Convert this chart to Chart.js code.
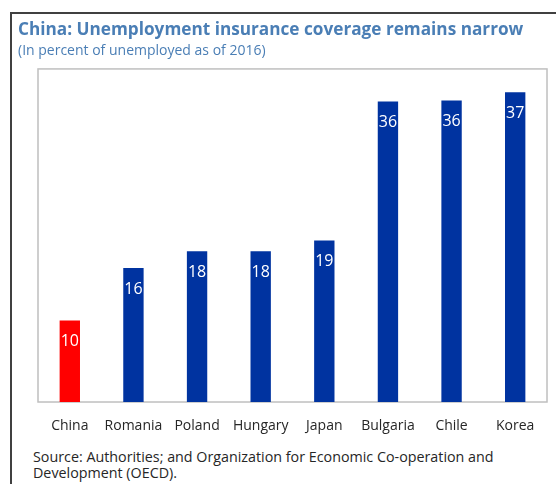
<!DOCTYPE html>
<html>
<head>
<meta charset="utf-8">
<script src="https://cdn.jsdelivr.net/npm/chart.js@4"></script>
<style>
  body { margin: 0; background: #fff; overflow: hidden; }
  #frame { position: absolute; left: 10px; top: 12px; width: 600px; height: 520px; border: 2px solid #404040; }
  #wrap { position: absolute; left: 0; top: 0; width: 556px; height: 440px; }
  #source { position: absolute; left: 33px; top: 449px; font: 14.3px 'Open Sans', sans-serif; line-height: 16px; color: #262626; }
</style>
</head>
<body>
<div id="frame"></div>
<div id="wrap"><canvas id="chart"></canvas></div>
<div id="source">Source: Authorities; and Organization for Economic Co-operation and<br>Development (OECD).</div>
<script>
// 국가별 실업보험 적용률 (2016, %)
const countries = ['China', 'Romania', 'Poland', 'Hungary', 'Japan', 'Bulgaria', 'Chile', 'Korea'];
const coverage = [9.8, 16.1, 18.1, 18.1, 19.4, 36.1, 36.2, 37.2];
const barColors = ['#ff0000', '#0033a0', '#0033a0', '#0033a0', '#0033a0', '#0033a0', '#0033a0', '#0033a0'];
const yMax = 40;

// 막대 위 값 표시 + 플롯 테두리
const valueLabels = {
  id: 'valueLabels',
  beforeDatasetsDraw(chart) {
    const { ctx, chartArea: a } = chart;
    ctx.save();
    ctx.strokeStyle = '#bfbfbf';
    ctx.lineWidth = 1.5;
    ctx.strokeRect(a.left, a.top, a.right - a.left, a.bottom - a.top);
    ctx.restore();
  },
  afterDatasetsDraw(chart) {
    const { ctx } = chart;
    const meta = chart.getDatasetMeta(0);
    ctx.save();
    ctx.fillStyle = '#ffffff';
    ctx.font = "16px 'Open Sans', sans-serif";
    ctx.textAlign = 'center';
    ctx.textBaseline = 'middle';
    meta.data.forEach((bar, i) => {
      ctx.fillText(Math.round(coverage[i]), bar.x, bar.y + 21);
    });
    ctx.restore();
  }
};

new Chart(document.getElementById('chart'), {
  type: 'bar',
  data: {
    labels: countries,
    datasets: [{
      data: coverage,
      backgroundColor: barColors,
      barPercentage: 0.32,
      categoryPercentage: 1
    }]
  },
  options: {
    responsive: true,
    maintainAspectRatio: false,
    animation: false,
    layout: { padding: { left: 18, right: 9, top: 0, bottom: 0 } },
    plugins: {
      legend: { display: false },
      tooltip: { enabled: false },
      title: {
        display: true,
        text: 'China: Unemployment insurance coverage remains narrow',
        align: 'start',
        color: '#4a7eb5',
        font: { family: "'Open Sans', sans-serif", size: 17.2, weight: 'bold' },
        padding: { top: 20, bottom: 0 }
      },
      subtitle: {
        display: true,
        text: '(In percent of unemployed as of 2016)',
        align: 'start',
        color: '#4a7eb5',
        font: { family: "'Open Sans', sans-serif", size: 14 },
        padding: { top: 1.5, bottom: 10 }
      }
    },
    scales: {
      x: {
        grid: { display: false, drawTicks: false },
        border: { display: false },
        ticks: { color: '#262626', padding: 16, maxRotation: 0, font: { family: "'Open Sans', sans-serif", size: 14 } },
        afterFit: s => { s.height = 38; }
      },
      y: {
        min: 0,
        max: yMax,
        grid: { display: false, drawTicks: false },
        border: { display: false },
        ticks: { display: false },
        afterFit: s => { s.width = 20; }
      }
    }
  },
  plugins: [valueLabels]
});
</script>
</body>
</html>
